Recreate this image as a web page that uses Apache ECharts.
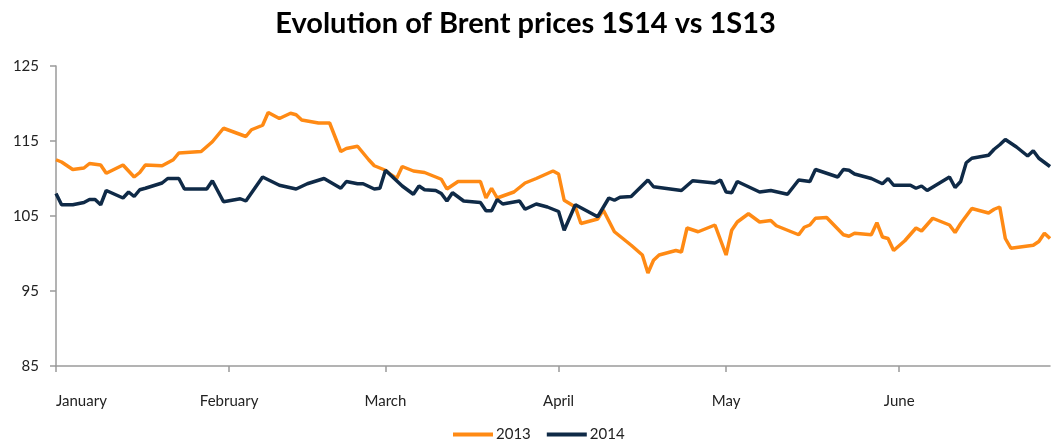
<!DOCTYPE html>
<html>
<head>
<meta charset="utf-8">
<script src="https://cdn.jsdelivr.net/npm/echarts@6/dist/echarts.min.js"></script>
<style>
  html, body { margin: 0; padding: 0; background: #fff; }
  #chart { width: 1051px; height: 442px; }
</style>
</head>
<body>
<div id="chart"></div>
<script>
// month labels sit on the first day of each month (days counted from 1 January)
const monthNames = ['January', 'February', 'March', 'April', 'May', 'June']
const monthStarts = [0, 31, 59, 90, 120, 151]

// 2013 Brent
const days2013 = [0, 1, 3, 5, 6, 8, 9, 12, 14, 15, 16, 19, 21, 22, 26, 28, 30, 34, 35, 37,
  38, 40, 42, 43, 44, 47, 49, 51, 52, 54, 56, 57, 59, 60, 61, 62, 64, 66, 69, 70,
  72, 76, 77, 78, 79, 82, 84, 86, 89, 90, 91, 93, 94, 97, 98, 100, 103, 105, 106, 107,
  108, 111, 112, 113, 115, 118, 120, 121, 122, 124, 126, 128, 129, 133, 134, 135, 136, 138, 141, 142,
  143, 146, 147, 148, 149, 150, 152, 154, 155, 157, 160, 161, 162, 164, 167, 168, 169, 170, 171, 175,
  176, 177, 178]
const price2013 = [112.5, 112.2, 111.2, 111.4, 112.0, 111.8, 110.7, 111.8, 110.2, 110.8, 111.8, 111.7, 112.5, 113.4, 113.6, 114.9, 116.7, 115.6, 116.5, 117.1,
  118.8, 118.0, 118.7, 118.5, 117.8, 117.4, 117.4, 113.6, 114.0, 114.3, 112.5, 111.7, 111.1, 110.5, 110.0, 111.6, 111.0, 110.8, 109.9, 108.6,
  109.6, 109.6, 107.4, 108.7, 107.4, 108.2, 109.4, 110.0, 111.0, 110.6, 107.1, 106.2, 104.0, 104.6, 105.8, 102.9, 101.1, 99.8, 97.4, 99.1,
  99.8, 100.4, 100.2, 103.4, 102.9, 103.8, 99.8, 103.1, 104.2, 105.3, 104.2, 104.4, 103.7, 102.5, 103.5, 103.8, 104.7, 104.8, 102.5, 102.3,
  102.7, 102.5, 104.1, 102.2, 102.0, 100.4, 101.7, 103.4, 103.0, 104.7, 103.8, 102.8, 104.0, 106.0, 105.4, 105.9, 106.2, 102.0, 100.7, 101.1,
  101.6, 102.7, 102.0]

// 2014 Brent
const days2014 = [0, 1, 3, 5, 6, 7, 8, 9, 12, 13, 14, 15, 16, 19, 20, 22, 23, 27, 28, 30,
  33, 34, 37, 40, 43, 45, 48, 51, 52, 54, 55, 57, 58, 59, 62, 64, 65, 66, 68, 69,
  70, 71, 73, 76, 77, 78, 79, 80, 83, 84, 86, 88, 90, 91, 93, 97, 99, 100, 101, 103,
  106, 107, 112, 114, 118, 119, 120, 121, 122, 126, 128, 131, 133, 135, 136, 138, 140, 141, 142, 143,
  146, 148, 149, 150, 153, 154, 155, 156, 158, 160, 161, 162, 163, 164, 167, 168, 169, 170, 172, 174,
  175, 176, 178]
const price2014 = [108.0, 106.5, 106.5, 106.8, 107.2, 107.2, 106.5, 108.4, 107.4, 108.2, 107.6, 108.5, 108.7, 109.4, 110.0, 110.0, 108.6, 108.6, 109.7, 106.9,
  107.3, 107.0, 110.2, 109.1, 108.6, 109.3, 110.0, 108.7, 109.6, 109.3, 109.3, 108.6, 108.7, 111.1, 109.0, 107.9, 109.0, 108.5, 108.4, 108.0,
  107.0, 108.1, 107.0, 106.8, 105.7, 105.7, 107.2, 106.6, 107.0, 105.9, 106.6, 106.2, 105.6, 103.1, 106.5, 104.9, 107.4, 107.1, 107.5, 107.6,
  109.8, 108.9, 108.4, 109.7, 109.4, 109.8, 108.2, 108.1, 109.6, 108.2, 108.4, 107.9, 109.8, 109.6, 111.2, 110.7, 110.2, 111.2, 111.1, 110.6,
  110.0, 109.3, 110.0, 109.1, 109.1, 108.7, 109.0, 108.4, 109.3, 110.2, 108.8, 109.6, 112.1, 112.7, 113.1, 113.9, 114.5, 115.2, 114.2, 113.0,
  113.7, 112.7, 111.6]

const yTicks = [85, 95, 105, 115, 125]

function pairs(xs, ys) {
  return xs.map((x, i) => [x, ys[i]])
}

const chart = echarts.init(document.getElementById('chart'))
const font = 'Lato, "Open Sans", sans-serif'

const option = {
  animation: false,
  title: {
    text: 'Evolution of Brent prices 1S14 vs 1S13',
    left: 'center',
    top: 4,
    textStyle: { fontFamily: font, fontSize: 29, fontWeight: 'bold', color: '#000' }
  },
  legend: {
    bottom: 0,
    left: 453,
    padding: 0,
    icon: 'rect',
    itemWidth: 40,
    itemHeight: 4,
    itemGap: 16,
    textStyle: { fontFamily: font, fontSize: 15, color: '#222', padding: [0, 0, 0, -2] },
    data: ['2013', '2014']
  },
  grid: { left: 56, right: 1, top: 66, bottom: 76 },
  xAxis: {
    type: 'value',
    min: 0,
    max: 178,
    axisLine: { lineStyle: { color: '#9a9a9a', width: 1.5 } },
    axisTick: { customValues: monthStarts, length: 6, lineStyle: { color: '#9a9a9a', width: 1.5 } },
    splitLine: { show: false },
    axisLabel: {
      customValues: monthStarts,
      margin: 28,
      alignMinLabel: 'left',
      fontFamily: font,
      fontSize: 15,
      color: '#222',
      formatter: v => monthNames[monthStarts.indexOf(v)] || ''
    }
  },
  yAxis: {
    type: 'value',
    min: yTicks[0],
    max: yTicks[yTicks.length - 1],
    interval: 10,
    axisLine: { show: true, lineStyle: { color: '#9a9a9a', width: 1.5 } },
    axisTick: { show: true, length: 6, lineStyle: { color: '#9a9a9a', width: 1.5 } },
    splitLine: { show: false },
    axisLabel: { margin: 17, fontFamily: font, fontSize: 15, color: '#222' }
  },
  series: [
    {
      name: '2013',
      type: 'line',
      showSymbol: false,
      color: '#FF8A14',
      lineStyle: { width: 3.5, color: '#FF8A14' },
      data: pairs(days2013, price2013)
    },
    {
      name: '2014',
      type: 'line',
      showSymbol: false,
      color: '#0F2A47',
      lineStyle: { width: 3.5, color: '#0F2A47' },
      data: pairs(days2014, price2014)
    }
  ]
}

chart.setOption(option)
window.onresize = () => { chart.resize() }
</script>
</body>
</html>
